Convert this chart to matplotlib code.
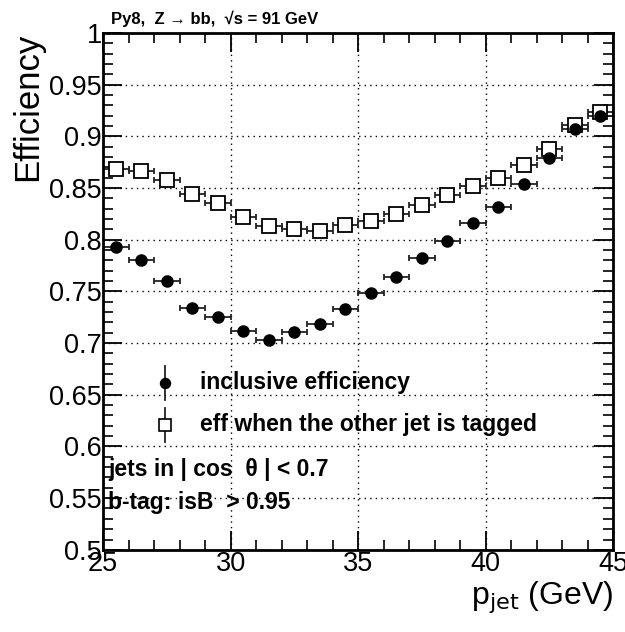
import numpy as np
import matplotlib
matplotlib.use("Agg")
import matplotlib.pyplot as plt
from matplotlib.ticker import MultipleLocator

plt.rcParams['font.family'] = ['Liberation Sans', 'DejaVu Sans']

# bin centres of p_jet (GeV), bin width 1
pjet = [25.5, 26.5, 27.5, 28.5, 29.5, 30.5, 31.5, 32.5, 33.5, 34.5,
        35.5, 36.5, 37.5, 38.5, 39.5, 40.5, 41.5, 42.5, 43.5, 44.5]
bin_half = [0.5] * 20

eff_incl = [0.793, 0.780, 0.760, 0.734, 0.725, 0.712, 0.703, 0.711, 0.718, 0.733,
            0.748, 0.764, 0.782, 0.799, 0.816, 0.832, 0.854, 0.879, 0.907, 0.920]
eff_tag = [0.868, 0.866, 0.858, 0.844, 0.835, 0.822, 0.813, 0.810, 0.808, 0.814,
           0.818, 0.825, 0.834, 0.843, 0.852, 0.860, 0.872, 0.888, 0.911, 0.923]
err_incl = [0.003] * 20
err_tag = [0.003] * 20

legend_labels = ['inclusive efficiency', 'eff when the other jet is tagged']

fig = plt.figure(figsize=(6.25, 6.32), dpi=100)
ax = fig.add_axes([0.165, 0.130, 0.816, 0.818])

ax.errorbar(pjet, eff_tag, xerr=bin_half, yerr=err_tag, fmt='s', ms=9.5,
            mfc='white', mec='black', mew=1.3, ecolor='#222222', elinewidth=1.3,
            capsize=2.5, capthick=1.3)
ax.errorbar(pjet, eff_incl, xerr=bin_half, yerr=err_incl, fmt='o', ms=8,
            mfc='black', mec='black', ecolor='#222222', elinewidth=1.3,
            capsize=2.5, capthick=1.3)

ax.set_xlim(25, 45)
ax.set_ylim(0.5, 1.0)
ax.xaxis.set_minor_locator(MultipleLocator(1))
ax.yaxis.set_minor_locator(MultipleLocator(0.01))
ax.set_xticks([25, 30, 35, 40, 45])
ax.set_xticklabels(['25', '30', '35', '40', '45'])
ax.set_yticks([0.5, 0.55, 0.6, 0.65, 0.7, 0.75, 0.8, 0.85, 0.9, 0.95, 1.0])
ax.set_yticklabels(['0.5', '0.55', '0.6', '0.65', '0.7', '0.75', '0.8',
                    '0.85', '0.9', '0.95', '1'])
ax.tick_params(which='both', direction='in', top=True, right=True, labelsize=19.5)
ax.tick_params(which='major', length=14, width=1.3, pad=1)
ax.tick_params(which='minor', length=7, width=1.2)
for s in ax.spines.values():
    s.set_linewidth(2)
ax.grid(True, which='major', linestyle=(0, (1, 3)), color='black', linewidth=1.0)

ax.set_ylabel('Efficiency', fontsize=25, loc='top')
ax.yaxis.set_label_coords(-0.115, 1.0)
ax.set_xlabel(r'p$_{\mathrm{jet}}$ (GeV)', fontsize=23, loc='right')
ax.xaxis.set_label_coords(1.0, -0.058)

fig.text(0.178, 0.970, 'Py8,  Z \u2192 bb,  \u221as = 91 GeV',
         fontsize=12, fontweight='bold', va='center', ha='left')

# legend
for i, (lab, mk, fc) in enumerate(zip(legend_labels, ['o', 's'], ['black', 'white'])):
    yy = 0.323 - i * 0.081
    ax.plot([0.122, 0.122], [yy - 0.033, yy + 0.033], color='#222222', lw=1.3,
            transform=ax.transAxes)
    ax.plot([0.122], [yy], marker=mk, ms=7 if mk == 'o' else 8, mfc=fc,
            mec='black', mew=1.2, transform=ax.transAxes, ls='none')
    ax.text(0.19, yy, lab, transform=ax.transAxes, fontsize=16.5,
            fontweight='bold', va='center', ha='left')

ax.text(0.01, 0.155, 'jets in | cos  \u03b8 | < 0.7', transform=ax.transAxes,
        fontsize=16.5, fontweight='bold', va='center', ha='left')
ax.text(0.01, 0.091, 'b-tag: isB  > 0.95', transform=ax.transAxes,
        fontsize=16.5, fontweight='bold', va='center', ha='left')

fig.savefig('out.png', dpi=100)
